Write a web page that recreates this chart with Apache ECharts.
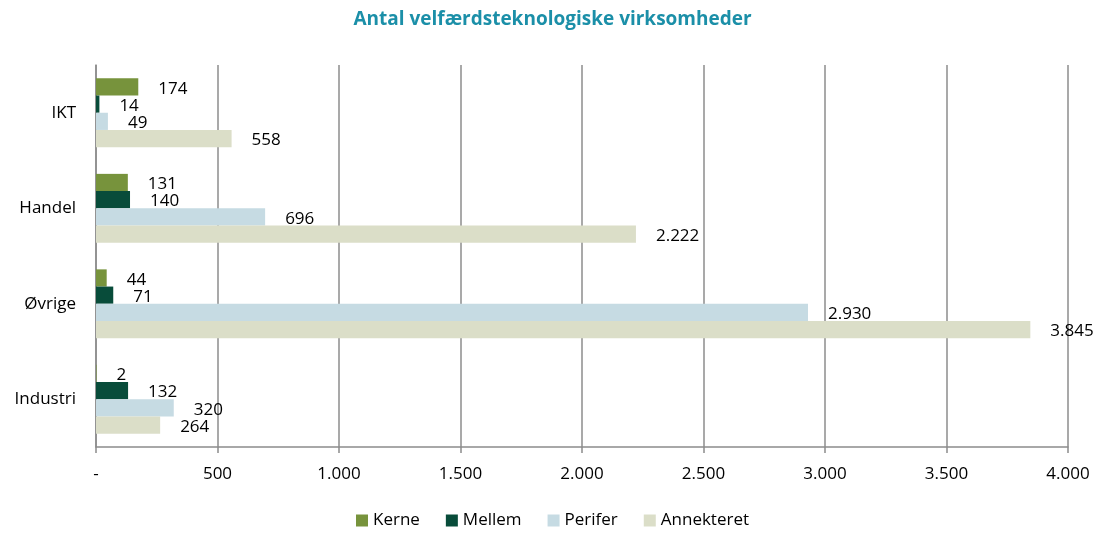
<!DOCTYPE html>
<html><head><meta charset="utf-8">
<script src="https://cdn.jsdelivr.net/npm/echarts@6/dist/echarts.min.js"></script>
<style>html,body{margin:0;padding:0;background:#fff}#c{width:1105px;height:535px}</style>
</head><body><div id="c"></div>
<script>
const categories = ['IKT', 'Handel', 'Øvrige', 'Industri'];
const kerne = [174, 131, 44, 2];
const mellem = [14, 140, 71, 132];
const perifer = [49, 696, 2930, 320];
const annekteret = [558, 2222, 3845, 264];
const seriesNames = ['Kerne', 'Mellem', 'Perifer', 'Annekteret'];
const colors = ['#77933c', '#084c3a', '#c6dbe3', '#dbdec8'];
const xTicks = { min: 0, max: 4000, interval: 500 };

const FONT = 'Open Sans';
function fmt(v) {
  if (v === 0) return '-';
  return String(v).replace(/\B(?=(\d{3})+(?!\d))/g, '.');
}
const dataSets = [kerne, mellem, perifer, annekteret];
const chart = echarts.init(document.getElementById('c'));
chart.setOption({
  animation: false,
  textStyle: { fontFamily: FONT },
  title: {
    text: 'Antal velfærdsteknologiske virksomheder',
    left: 'center', top: 5,
    textStyle: { color: '#1b8fa8', fontSize: 19, fontWeight: 'bold', fontFamily: FONT }
  },
  legend: {
    bottom: 1, left: 'center',
    itemWidth: 12, itemHeight: 12, itemGap: 26,
    icon: 'rect',
    textStyle: { fontSize: 17, color: '#000', fontFamily: FONT }
  },
  grid: { left: 96, right: 37, top: 65, bottom: 88, containLabel: false },
  xAxis: {
    type: 'value', min: xTicks.min, max: xTicks.max, interval: xTicks.interval,
    axisLine: { show: true, lineStyle: { color: '#8c8c8c', width: 1.5 } },
    axisTick: { show: true, length: 6, lineStyle: { color: '#8c8c8c', width: 1.5 } },
    axisLabel: { formatter: fmt, fontSize: 17, color: '#000', margin: 19 },
    splitLine: { show: true, lineStyle: { color: '#8c8c8c', width: 1.5 } }
  },
  yAxis: {
    type: 'category', data: categories, inverse: true,
    axisLine: { show: true, lineStyle: { color: '#8c8c8c', width: 1.5 } },
    axisTick: { show: false },
    axisLabel: { fontSize: 17, color: '#000', margin: 20 }
  },
  series: seriesNames.map((n, i) => ({
    name: n, type: 'bar', data: dataSets[i],
    barGap: '0%', barCategoryGap: '28%',
    itemStyle: { color: colors[i] },
    label: {
      show: true, position: 'right', distance: 20, offset: [0, 2],
      formatter: p => fmt(p.value), fontSize: 17, color: '#000', fontFamily: FONT
    }
  }))
});
</script></body></html>
